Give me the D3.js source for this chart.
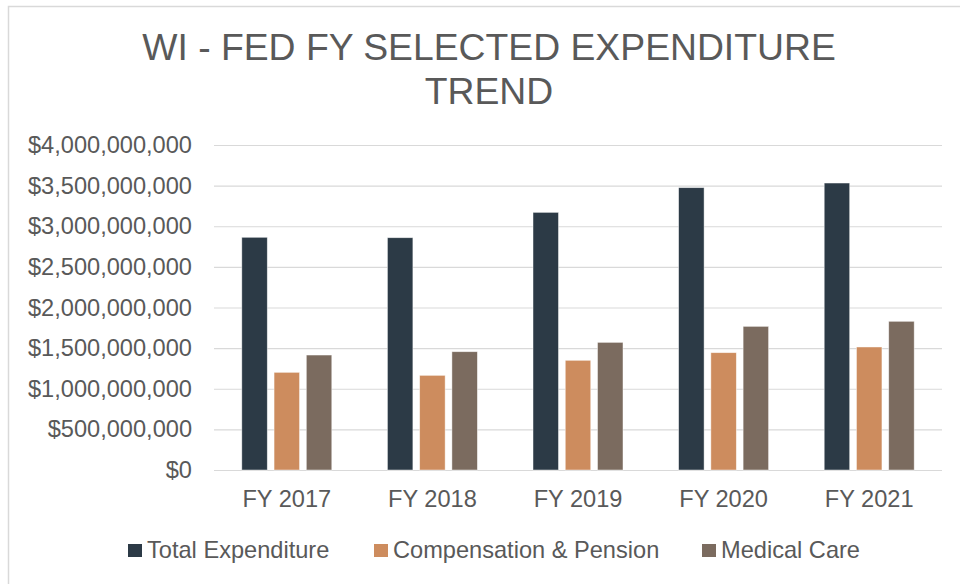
<!DOCTYPE html>
<html>
<head>
<meta charset="utf-8">
<script src="https://cdn.jsdelivr.net/npm/d3@7/dist/d3.min.js"></script>
<style>
  body { margin: 0; background: #fff; }
  svg text { font-family: "Liberation Sans", Arial, sans-serif; fill: #595959; }
</style>
</head>
<body>
<div id="chart"></div>
<script>
// data
var years = ["FY 2017", "FY 2018", "FY 2019", "FY 2020", "FY 2021"];
var seriesNames = ["Total Expenditure", "Compensation & Pension", "Medical Care"];
var totalExpenditure = [2864000000, 2859000000, 3171000000, 3475000000, 3532000000];
var compensationPension = [1202000000, 1165000000, 1350000000, 1444000000, 1514000000];
var medicalCare = [1415000000, 1456000000, 1571000000, 1768000000, 1830000000];
var yTicks = [0, 500000000, 1000000000, 1500000000, 2000000000, 2500000000, 3000000000, 3500000000, 4000000000];
var colors = ["#2c3a46", "#cd8c5e", "#7b6b5f"];

var seriesValues = [totalExpenditure, compensationPension, medicalCare];

var W = 960, H = 584;
var plotLeft = 214, plotRight = 942, plotTop = 145, plotBottom = 470;
var labelSize = '23.6px';

var svg = d3.select('#chart').append('svg')
  .attr('width', W)
  .attr('height', H);

// outer chart border (only top/left visible in the reference)
svg.append('rect')
  .attr('x', 8.5).attr('y', 6.5)
  .attr('width', 1000).attr('height', 1000)
  .attr('fill', 'none')
  .attr('stroke', '#d9d9d9')
  .attr('stroke-width', 1.5);

// title
var title = svg.append('text')
  .attr('text-anchor', 'middle')
  .style('font-size', '37.3px');
title.append('tspan').attr('x', 489).attr('y', 60).text('WI - FED FY SELECTED EXPENDITURE');
title.append('tspan').attr('x', 489).attr('y', 104).text('TREND');

var y = d3.scaleLinear().domain([0, 4000000000]).range([plotBottom, plotTop]);

var x0 = d3.scaleBand().domain(years).range([plotLeft, plotRight])
  .paddingInner(0.382).paddingOuter(0.191);

var x1 = d3.scaleBand().domain(seriesNames).range([0, x0.bandwidth()])
  .paddingInner(0.21);

// y axis with gridlines
var yAxis = svg.append('g')
  .attr('transform', 'translate(' + plotLeft + ',0)')
  .call(d3.axisLeft(y)
    .tickValues(yTicks)
    .tickFormat(d3.format('$,.0f'))
    .tickSize(-(plotRight - plotLeft))
    .tickPadding(22));
yAxis.select('.domain').remove();
yAxis.selectAll('line').attr('stroke', '#d9d9d9').attr('stroke-width', 1.2);
yAxis.selectAll('text').style('font-size', labelSize).attr('fill', '#595959');

// bars
var rows = years.map(function(yr, i) {
  return { year: yr, values: seriesNames.map(function(s, j) { return { key: s, idx: j, value: seriesValues[j][i] }; }) };
});

var groups = svg.append('g').selectAll('g.group').data(rows)
  .enter().append('g')
  .attr('class', 'group')
  .attr('transform', function(d) { return 'translate(' + x0(d.year) + ',0)'; });

groups.selectAll('rect').data(function(d) { return d.values; })
  .enter().append('rect')
  .attr('x', function(d) { return x1(d.key); })
  .attr('y', function(d) { return y(d.value); })
  .attr('width', x1.bandwidth())
  .attr('height', function(d) { return plotBottom - y(d.value); })
  .attr('fill', function(d) { return colors[d.idx]; })
  .attr('stroke', '#ffffff')
  .attr('stroke-opacity', 0.6)
  .attr('stroke-width', 0.75);

// x axis labels
var xAxis = svg.append('g')
  .attr('transform', 'translate(0,' + plotBottom + ')')
  .call(d3.axisBottom(x0).tickSize(0).tickPadding(20));
xAxis.select('.domain').remove();
xAxis.selectAll('text').style('font-size', labelSize).attr('fill', '#595959');

// legend
var legendX = [128, 374, 702];
var legend = svg.append('g').selectAll('g.legend').data(seriesNames)
  .enter().append('g')
  .attr('class', 'legend')
  .attr('transform', function(d, i) { return 'translate(' + legendX[i] + ',544)'; });

legend.append('rect')
  .attr('width', 14).attr('height', 13)
  .attr('fill', function(d, i) { return colors[i]; });

legend.append('text')
  .attr('x', 19).attr('y', 13.7)
  .style('font-size', labelSize)
  .text(function(d) { return d; });
</script>
</body>
</html>
